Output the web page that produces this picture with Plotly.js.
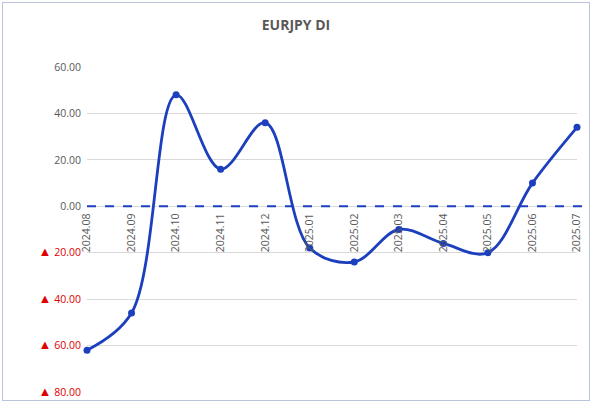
<!DOCTYPE html>
<html><head><meta charset="utf-8">
<script src="https://cdn.plot.ly/plotly-3.0.1.min.js"></script>
<style>
html,body{margin:0;padding:0;background:#fff;width:600px;height:405px;overflow:hidden;}
#frame{position:absolute;left:2px;top:2px;width:586px;height:397px;border:1px solid #b9c3d9;}
#chart{width:586px;height:397px;}
</style></head>
<body><div id="frame"><div id="chart"></div></div>
<script>
const categories = ["2024.08","2024.09","2024.10","2024.11","2024.12","2025.01","2025.02","2025.03","2025.04","2025.05","2025.06","2025.07"];
const values = [-62, -46, 48, 16, 36, -18, -24, -10, -16, -20, 10, 34];
const yTickVals = [60, 40, 20, 0, -20, -40, -60, -80];
const yTickText = yTickVals.map(v => v < 0
  ? '<span style="color:#e00000"><span style="font-size:13px">▲</span> ' + Math.abs(v).toFixed(2) + '</span>'
  : v.toFixed(2));
const blue = '#1c3fbd';
const yMin = -80, yMax = 60;
const fam = 'Open Sans, Liberation Sans, sans-serif';

Plotly.newPlot('chart', [{
  x: categories.map((c, i) => i),
  y: values,
  type: 'scatter',
  mode: 'lines+markers',
  cliponaxis: false,
  line: {color: blue, width: 2.8, shape: 'spline', smoothing: 1},
  marker: {color: blue, size: 7},
  hoverinfo: 'skip'
}], {
  width: 586, height: 397,
  margin: {l: 84, r: 12, t: 64, b: 8},
  paper_bgcolor: '#fff', plot_bgcolor: '#fff',
  showlegend: false,
  title: {text: '<b>EURJPY DI</b>', font: {family: fam, size: 14, color: '#595959'}, x: 0.5, xanchor: 'center', y: 0.945, yanchor: 'middle'},
  xaxis: {
    range: [0, categories.length - 1],
    tickvals: categories.map((c, i) => i),
    ticktext: categories,
    tickangle: -90,
    anchor: 'free',
    position: (0 - yMin) / (yMax - yMin),
    showgrid: false, zeroline: false, showline: false, ticks: '',
    ticklabelstandoff: 4,
    tickfont: {family: fam, size: 10.5, color: '#595959'},
    fixedrange: true
  },
  yaxis: {
    range: [yMin, yMax],
    tickvals: yTickVals,
    ticktext: yTickText,
    showgrid: true, gridcolor: '#d9d9d9', gridwidth: 1,
    zeroline: false, showline: false, ticks: '',
    ticklabelstandoff: 5,
    tickfont: {family: fam, size: 10.5, color: '#595959'},
    fixedrange: true
  },
  shapes: [{
    type: 'line', xref: 'paper', yref: 'y', x0: 0, x1: 1.027, y0: 0, y1: 0,
    line: {color: blue, width: 2, dash: 'dash'}, layer: 'above'
  }]
}, {displayModeBar: false, staticPlot: true});
</script></body></html>
